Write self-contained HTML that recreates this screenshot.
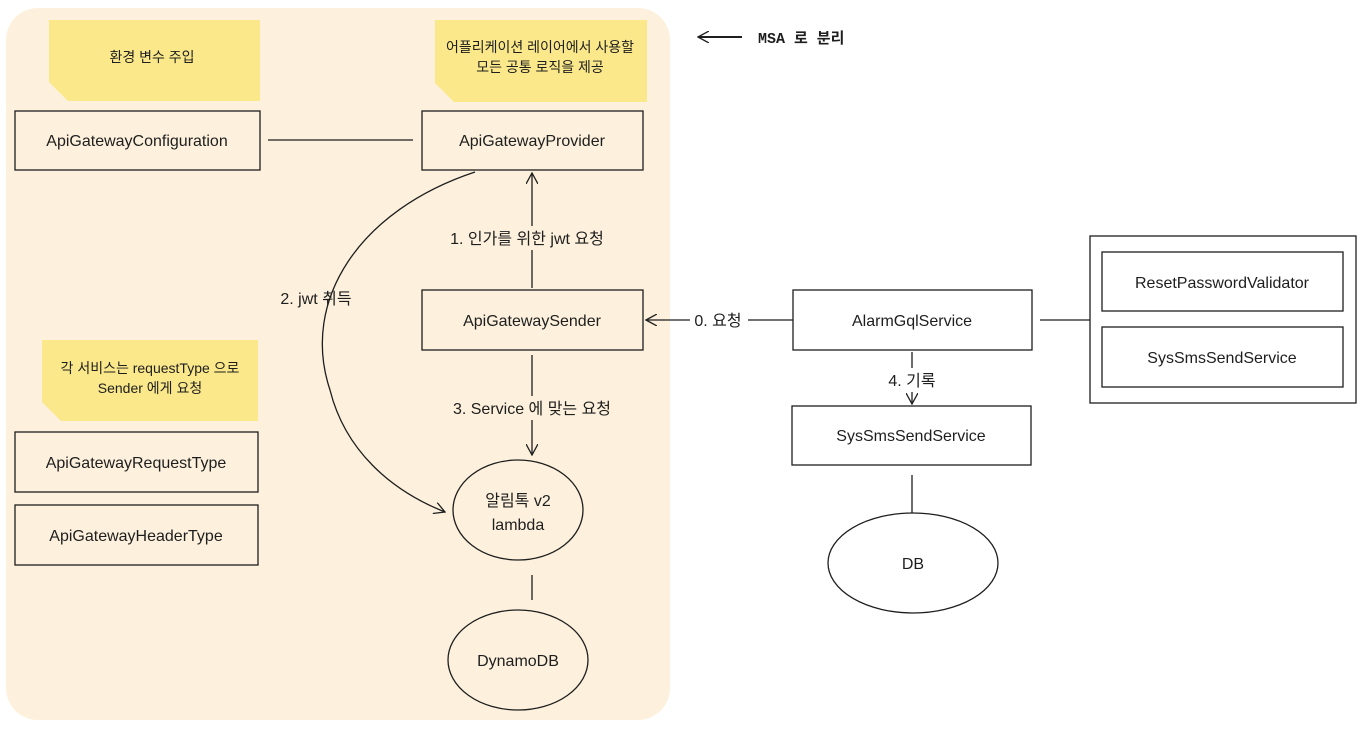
<!DOCTYPE html>
<html><head><meta charset="utf-8"><style>
html,body{margin:0;padding:0;background:#fff;}
svg text{font-family:"Liberation Sans","Noto Sans CJK KR",sans-serif;fill:#1e1e1e;}
</style></head><body>
<svg width="1369" height="725" viewBox="0 0 1369 725" xmlns="http://www.w3.org/2000/svg">
<defs>
<marker id="a" viewBox="0 0 12 12" refX="11" refY="6" markerWidth="12" markerHeight="12" orient="auto" markerUnits="userSpaceOnUse">
<path d="M0,0 L11,6 L0,12" fill="none" stroke="#1e1e1e" stroke-width="1.3"/></marker>
</defs>
<rect x="6" y="8" width="664" height="712" rx="32" fill="#fdf1dd"/>
<g fill="#fae88b">
<path d="M49,20 H260 V101 H68 L49,82 Z"/>
<path d="M435,20 H647 V102 H454 L435,83 Z"/>
<path d="M42,340 H258 V421 H61 L42,402 Z"/>
</g>
<g font-size="14" text-anchor="middle">
<text x="152" y="62">환경 변수 주입</text>
<text x="540" y="52">어플리케이션 레이어에서 사용할</text>
<text x="540" y="72">모든 공통 로직을 제공</text>
<text x="150" y="373">각 서비스는 requestType 으로</text>
<text x="150" y="393">Sender 에게 요청</text>
</g>
<g fill="none" stroke="#1e1e1e" stroke-width="1.3">
<rect x="15" y="111" width="245" height="59"/>
<rect x="422" y="111" width="221" height="59"/>
<rect x="422" y="290" width="221" height="60"/>
<rect x="15" y="432" width="243" height="60"/>
<rect x="15" y="505" width="243" height="60"/>
<rect x="793" y="290" width="239" height="60"/>
<rect x="792" y="406" width="239" height="59"/>
<rect x="1090" y="236" width="266" height="167"/>
<rect x="1102" y="252" width="241" height="59"/>
<rect x="1102" y="327" width="241" height="60"/>
<ellipse cx="518" cy="510" rx="65" ry="50"/>
<ellipse cx="518" cy="660" rx="70" ry="50"/>
<ellipse cx="913" cy="563" rx="85" ry="50"/>
<line x1="268" y1="140" x2="413" y2="140"/>
<line x1="532" y1="288" x2="532" y2="173" marker-end="url(#a)"/>
<path d="M475,172 C360,210 300,300 330,390 C345,450 390,490 445,512" marker-end="url(#a)"/>
<line x1="532" y1="355" x2="532" y2="455" marker-end="url(#a)"/>
<line x1="532" y1="575" x2="532" y2="600"/>
<line x1="793" y1="320" x2="646" y2="320" marker-end="url(#a)"/>
<line x1="1040" y1="320" x2="1090" y2="320"/>
<line x1="912" y1="352" x2="912" y2="404" marker-end="url(#a)"/>
<line x1="912" y1="475" x2="912" y2="513"/>
<line x1="742" y1="37" x2="698" y2="37" stroke-width="2" marker-end="url(#a)"/>
</g>
<g font-size="16" text-anchor="middle">
<rect x="690" y="308" width="58" height="24" fill="#fff"/>
<rect x="422" y="226" width="210" height="24" fill="#fdf1dd"/>
<rect x="418" y="396" width="228" height="24" fill="#fdf1dd"/>
<rect x="880" y="368" width="64" height="24" fill="#fff"/>
<text x="137" y="146">ApiGatewayConfiguration</text>
<text x="532" y="146">ApiGatewayProvider</text>
<text x="532" y="326">ApiGatewaySender</text>
<text x="136" y="468">ApiGatewayRequestType</text>
<text x="136" y="541">ApiGatewayHeaderType</text>
<text x="912" y="326">AlarmGqlService</text>
<text x="911" y="441">SysSmsSendService</text>
<text x="1222" y="288">ResetPasswordValidator</text>
<text x="1222" y="363">SysSmsSendService</text>
<text x="518" y="506">알림톡 v2</text>
<text x="518" y="530">lambda</text>
<text x="518" y="666">DynamoDB</text>
<text x="913" y="569">DB</text>
<text x="527" y="244">1. 인가를 위한 jwt 요청</text>
<text x="532" y="414">3. Service 에 맞는 요청</text>
<text x="316" y="304">2. jwt 취득</text>
<text x="718" y="326">0. 요청</text>
<text x="912" y="386">4. 기록</text>
</g>
<text x="758" y="43" font-size="15" font-weight="bold" style="font-family:'Liberation Mono','Noto Sans CJK KR',monospace">MSA 로 분리</text>
</svg>
</body></html>
